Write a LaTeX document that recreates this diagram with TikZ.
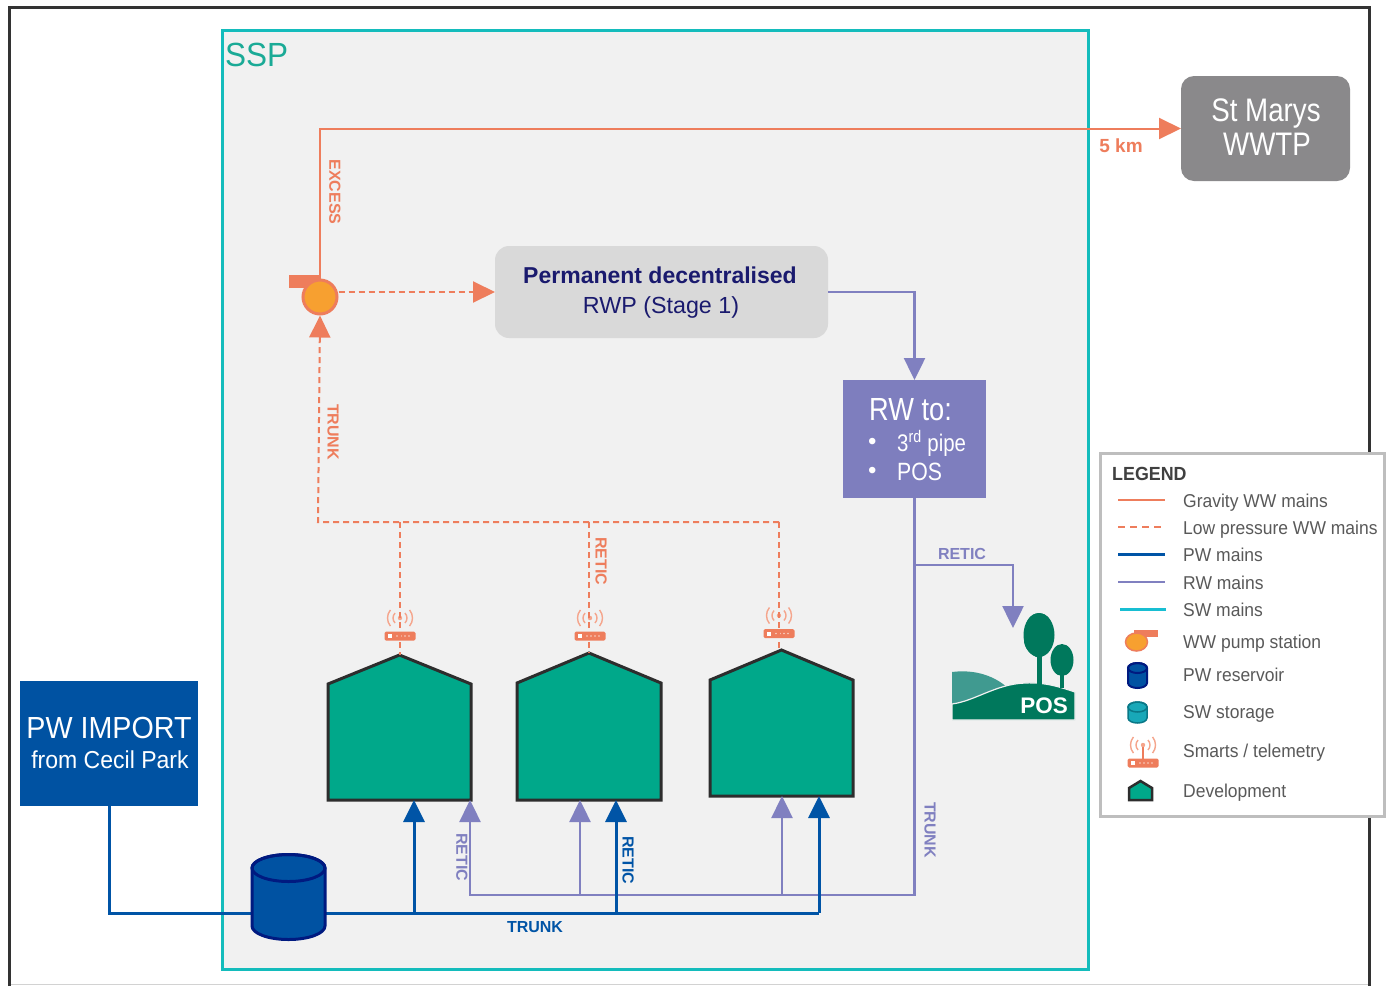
\documentclass[tikz,border=0pt]{standalone}
\usepackage{fontspec}
\setmainfont{Liberation Sans}
\newfontfamily\narrowA[FakeStretch=0.85]{Liberation Sans}
\newfontfamily\narrowB[FakeStretch=0.94]{Liberation Sans}
\usetikzlibrary{arrows.meta,calc}

\definecolor{ww}{RGB}{238,125,92}
\definecolor{pumpfill}{RGB}{247,160,48}
\definecolor{pw}{RGB}{0,84,166}
\definecolor{pwbox}{RGB}{0,82,162}
\definecolor{navy}{RGB}{0,26,128}
\definecolor{rw}{RGB}{128,128,192}
\definecolor{rwbox}{RGB}{126,126,190}
\definecolor{sw}{RGB}{24,190,210}
\definecolor{sspline}{RGB}{20,188,188}
\definecolor{ssptext}{RGB}{26,170,150}
\definecolor{panel}{RGB}{241,241,241}
\definecolor{devfill}{RGB}{0,168,138}
\definecolor{devline}{RGB}{45,45,45}
\definecolor{rwpfill}{RGB}{217,217,217}
\definecolor{rwptext}{RGB}{26,26,110}
\definecolor{wwtpfill}{RGB}{138,137,139}
\definecolor{posdark}{RGB}{0,120,92}
\definecolor{poslight}{RGB}{64,154,144}
\definecolor{legline}{RGB}{190,190,190}
\definecolor{legtext}{RGB}{89,89,89}
\definecolor{legtitle}{RGB}{64,64,64}
\definecolor{swfill}{RGB}{24,168,184}
\definecolor{swline}{RGB}{10,120,135}
\definecolor{telelight}{RGB}{245,165,140}

\newcommand\fs[1]{\fontsize{#1}{#1}\selectfont}

\tikzset{
  gravity/.style={draw=ww, line width=2pt},
  lowp/.style={draw=ww, line width=2pt, dash pattern=on 6pt off 4pt},
  pwmain/.style={draw=pw, line width=3pt},
  rwmain/.style={draw=rw, line width=2.5pt},
  swmain/.style={draw=sw, line width=3pt},
  arr/.style={-{Triangle[length=22pt,width=21pt]}},
  house/.style={fill=devfill, draw=devline, line width=3pt, line join=miter},
  telewave/.style={draw=telelight, line width=1.4pt},
  telebox/.style={fill=ww, rounded corners=1.5pt, minimum width=31pt, minimum height=9pt, inner sep=0pt},
  boxnode/.style={inner sep=0pt, outer sep=0pt},
  lbl/.style={font=\bfseries\fs{16}, inner sep=0pt},
  legtxt/.style={anchor=base west, text=legtext, font=\narrowB\fs{18.6}, inner sep=0pt},
}

% development building: name, left x, right x, apex y, eave y, bottom y
\newcommand\devhouse[6]{%
  \filldraw[house] (#2,#6) -- (#2,#5) -- ({(#2+#3)/2},#4) -- (#3,#5) -- (#3,#6) -- cycle;
  \coordinate (#1apex) at ({(#2+#3)/2},#4);
}

% telemetry unit: name, x, y of the base unit
\newcommand\telem[3]{%
  \draw[telewave] (#2,#3-18) ++(-45:7pt) arc[start angle=-45,end angle=45,radius=7pt];
  \draw[telewave] (#2,#3-18) ++(135:7pt) arc[start angle=135,end angle=225,radius=7pt];
  \draw[telewave] (#2,#3-18) ++(-40:12.5pt) arc[start angle=-40,end angle=40,radius=12.5pt];
  \draw[telewave] (#2,#3-18) ++(140:12.5pt) arc[start angle=140,end angle=220,radius=12.5pt];
  \fill[telelight] (#2,#3-18) circle (2.2pt);
  \node[telebox] (#1) at (#2,#3) {};
  \fill[white] (#2-12,#3-2) rectangle (#2-8,#3+2);
  \foreach \d in {-3,1,5,9} \fill[white!65!ww] (#2+\d,#3) circle (0.9pt);
}

% storage cylinder: x, top y, bottom y, x radius, y radius, fill, outline, width
\newcommand\cyl[8]{%
  \filldraw[fill=#6, draw=#7, line width=#8] (#1-#4,#2) -- (#1-#4,#3)
    arc[start angle=180,end angle=360,x radius=#4pt,y radius=#5pt] -- (#1+#4,#2)
    arc[start angle=0,end angle=180,x radius=#4pt,y radius=#5pt] -- cycle;
  \draw[draw=#7, line width=#8] (#1,#2) ellipse[x radius=#4pt, y radius=#5pt];
}

\begin{document}
\begin{tikzpicture}[x=1pt,y=-1pt]
\useasboundingbox (0,0) rectangle (1389,986);
\fill[white] (0,0) rectangle (1389,986);

% outer frame
\draw[legline!70, line width=1pt] (9,984) -- (1369,984);
\draw[black!80, line width=3pt] (9,986) -- (9,7) -- (1369,7) -- (1369,986);

% SSP precinct
\node[boxnode, draw=sspline, line width=3pt, fill=panel, minimum width=866pt, minimum height=939pt] (ssp) at (655,499.5) {};
\node[anchor=base west, text=ssptext, font=\narrowB\fs{33.5}, inner sep=0pt] (ssplbl) at (225,66) {SSP};

% boxes
\node[boxnode, fill=wwtpfill, rounded corners=13pt, minimum width=169pt, minimum height=105pt] (wwtp) at (1265.5,128.5) {};
\node[anchor=base, text=white, font=\narrowA\fs{32.6}, inner sep=0pt] (wwtp1) at (1266,121.7) {St Marys};
\node[anchor=base, text=white, font=\narrowA\fs{32.6}, inner sep=0pt] (wwtp2) at (1267,155) {WWTP};

\node[boxnode, fill=rwpfill, rounded corners=14pt, minimum width=333pt, minimum height=92pt] (rwp) at (661.5,292) {};
\node[anchor=base, text=rwptext, font=\bfseries\fs{23}, inner sep=0pt] (rwp1) at (660,283.3) {Permanent decentralised};
\node[anchor=base, text=rwptext, font=\fs{23.3}, inner sep=0pt] (rwp2) at (661,313.3) {RWP (Stage 1)};

\node[boxnode, fill=rwbox, minimum width=143pt, minimum height=118pt] (rw) at (914.5,439) {};
\node[anchor=base west, text=white, font=\narrowA\fs{32}, inner sep=0pt] (rw1) at (869,420) {RW to:};
\node[anchor=base west, text=white, font=\fs{24}, inner sep=0pt] (rwb1) at (868,449) {•};
\node[anchor=base west, text=white, font=\narrowA\fs{24}, inner sep=0pt] (rw2) at (897,451.7) {3\textsuperscript{rd} pipe};
\node[anchor=base west, text=white, font=\fs{24}, inner sep=0pt] (rwb2) at (868,478) {•};
\node[anchor=base west, text=white, font=\narrowA\fs{25}, inner sep=0pt] (rw3) at (897,480) {POS};

\node[boxnode, fill=pwbox, minimum width=178pt, minimum height=125pt] (pwimport) at (109,743.5) {};
\node[anchor=base, text=white, font=\narrowB\fs{30.5}, inner sep=0pt] (pwi1) at (109,738.3) {PW IMPORT};
\node[anchor=base, text=white, font=\narrowB\fs{24.5}, inner sep=0pt] (pwi2) at (110,768.3) {from Cecil Park};

% developments
\devhouse{ha}{328}{471}{655}{684}{800}
\devhouse{hb}{517}{661}{653}{683}{800}
\devhouse{hc}{710}{853}{650}{680}{796}
\coordinate (hapw) at (414,800);
\coordinate (harw) at (470,800);
\coordinate (hbrw) at (580,800);
\coordinate (hbpw) at (616,800);
\coordinate (hcrw) at (782,796);
\coordinate (hcpw) at (819,796);

% WW pump station
\fill[ww] (289,275) rectangle (321,288);
\node[circle, draw=ww, line width=3pt, fill=pumpfill, minimum size=34pt, inner sep=0pt] (pump) at (320,297) {};

% telemetry units
\telem{tela}{400}{636}
\telem{telb}{590}{636}
\telem{telc}{779}{633.5}

% wastewater network
\coordinate (col) at (318,522);
\draw[gravity, arr] (pump.north) |- (wwtp.west);
\draw[lowp, arr] (pump.east |- rwp.west) -- (rwp.west);
\draw[lowp, arr] (telc |- col) -- (col) -- (pump.south);
\draw[lowp] (col -| haapex) -- (haapex);
\draw[lowp] (col -| hbapex) -- (hbapex);
\draw[lowp] (col -| telc) -- (hcapex -| telc);

% recycled water network
\coordinate (rwj) at (470,895);
\coordinate (retj) at (914.5,565);
\coordinate (posin) at (1013,628);
\draw[rwmain, arr] (rwp.east) -| (rw.north);
\draw[rwmain, arr] (rw.south) |- (rwj) -- (harw);
\draw[rwmain, arr] (hbrw |- rwj) -- (hbrw);
\draw[rwmain, arr] (hcrw |- rwj) -- (hcrw);
\draw[rwmain, arr] (retj) -| (posin);

% potable water network
\node[boxnode, minimum width=73pt, minimum height=86pt] (res) at (288.5,897) {};
\coordinate (pwend) at (819,913);
\draw[pwmain] (pwimport.south) |- (pwend);
\draw[pwmain, arr] (hapw |- pwend) -- (hapw);
\draw[pwmain, arr] (hbpw |- pwend) -- (hbpw);
\draw[pwmain, arr] (pwend) -- (hcpw);
\cyl{288.5}{868}{926}{36.5}{13.5}{pwbox}{navy}{3pt}

% public open space
\node[boxnode, minimum width=123pt, minimum height=108pt] (pos) at (1013.5,666) {};
\fill[poslight] (952,672) .. controls (975,669) and (996,676) .. (1010,690) -- (952,706) -- cycle;
\filldraw[fill=posdark, draw=panel, line width=1.2pt] (952,704) .. controls (975,701) and (996,684) .. (1025,683)
  .. controls (1045,682) and (1060,687) .. (1075,692) -- (1075,720) -- (952,720) -- cycle;
\fill[posdark] (1037,650) rectangle (1042,688);
\fill[posdark] (1039,637) .. controls (1024,637) and (1023,625) .. (1030,617) .. controls (1034,612) and (1044,612) .. (1048,617)
  .. controls (1055,625) and (1054,637) .. (1039,658) .. controls (1030,655) and (1024,648) .. (1024,640) -- cycle;
\fill[posdark] (1039,635) ellipse[x radius=15.5pt, y radius=22pt];
\fill[posdark] (1060,668) rectangle (1064,688);
\fill[posdark] (1062,660) ellipse[x radius=11.5pt, y radius=16pt];
\node[text=white, font=\bfseries\fs{22.5}, inner sep=0pt] (postxt) at (1044,706) {POS};

% pipe labels
\node[lbl, text=ww, rotate=-90] (lexcess) at (335,192) {EXCESS};
\node[lbl, text=ww, rotate=-90] (ltrunkww) at (333,432) {TRUNK};
\node[lbl, text=ww, rotate=-90] (lreticww) at (601,561) {RETIC};
\node[font=\bfseries\fs{19}, text=ww, inner sep=0pt] (lkm) at (1121,146) {5 km};
\node[lbl, text=rw] (lreticpos) at (962,554) {RETIC};
\node[lbl, text=rw, rotate=-90] (ltrunkrw) at (930,830) {TRUNK};
\node[lbl, text=rw, rotate=-90] (lreticrw) at (462,857) {RETIC};
\node[lbl, text=pw, rotate=-90] (lreticpw) at (628,860) {RETIC};
\node[lbl, text=pw] (ltrunkpw) at (535,927) {TRUNK};

% legend
\node[boxnode, draw=legline, line width=3pt, fill=white, minimum width=284pt, minimum height=363pt] (legend) at (1242,634.5) {};
\node[anchor=base west, text=legtitle, font=\bfseries\narrowB\fs{19}, inner sep=0pt] (legtitle) at (1112,480) {LEGEND};
\draw[gravity, line width=2.5pt] (1118,500) -- (1165,500);
\node[legtxt] (lg1) at (1183,507) {Gravity WW mains};
\draw[lowp, line width=2.5pt, dash pattern=on 7pt off 5pt] (1118,527) -- (1165,527);
\node[legtxt] (lg2) at (1183,534) {Low pressure WW mains};
\draw[pwmain] (1118,554) -- (1165,554);
\node[legtxt] (lg3) at (1183,561) {PW mains};
\draw[rwmain] (1118,582) -- (1165,582);
\node[legtxt] (lg4) at (1183,589) {RW mains};
\draw[swmain] (1120,609) -- (1166,609);
\node[legtxt] (lg5) at (1183,616) {SW mains};
\fill[ww] (1134,630) rectangle (1158,637);
\filldraw[fill=pumpfill, draw=ww, line width=1.5pt] (1136.5,642) ellipse[x radius=11pt, y radius=9pt];
\node[legtxt] (lg6) at (1183,648) {WW pump station};
\cyl{1137.5}{668}{683}{9.5}{5}{pwbox}{navy}{2pt}
\node[legtxt] (lg7) at (1183,681) {PW reservoir};
\cyl{1137.5}{707}{718}{9.5}{5}{swfill}{swline}{1.5pt}
\node[legtxt] (lg8) at (1183,718) {SW storage};
\draw[ww, line width=1.5pt] (1143,745) -- (1143,763);
\telem{legtel}{1143}{763}
\node[legtxt] (lg9) at (1183,757) {Smarts / telemetry};
\filldraw[fill=devfill, draw=devline, line width=2.5pt, line join=miter] (1129,800) -- (1129,788) -- (1140.5,781) -- (1152,788) -- (1152,800) -- cycle;
\node[legtxt] (lg10) at (1183,797) {Development};
\end{tikzpicture}
\end{document}
